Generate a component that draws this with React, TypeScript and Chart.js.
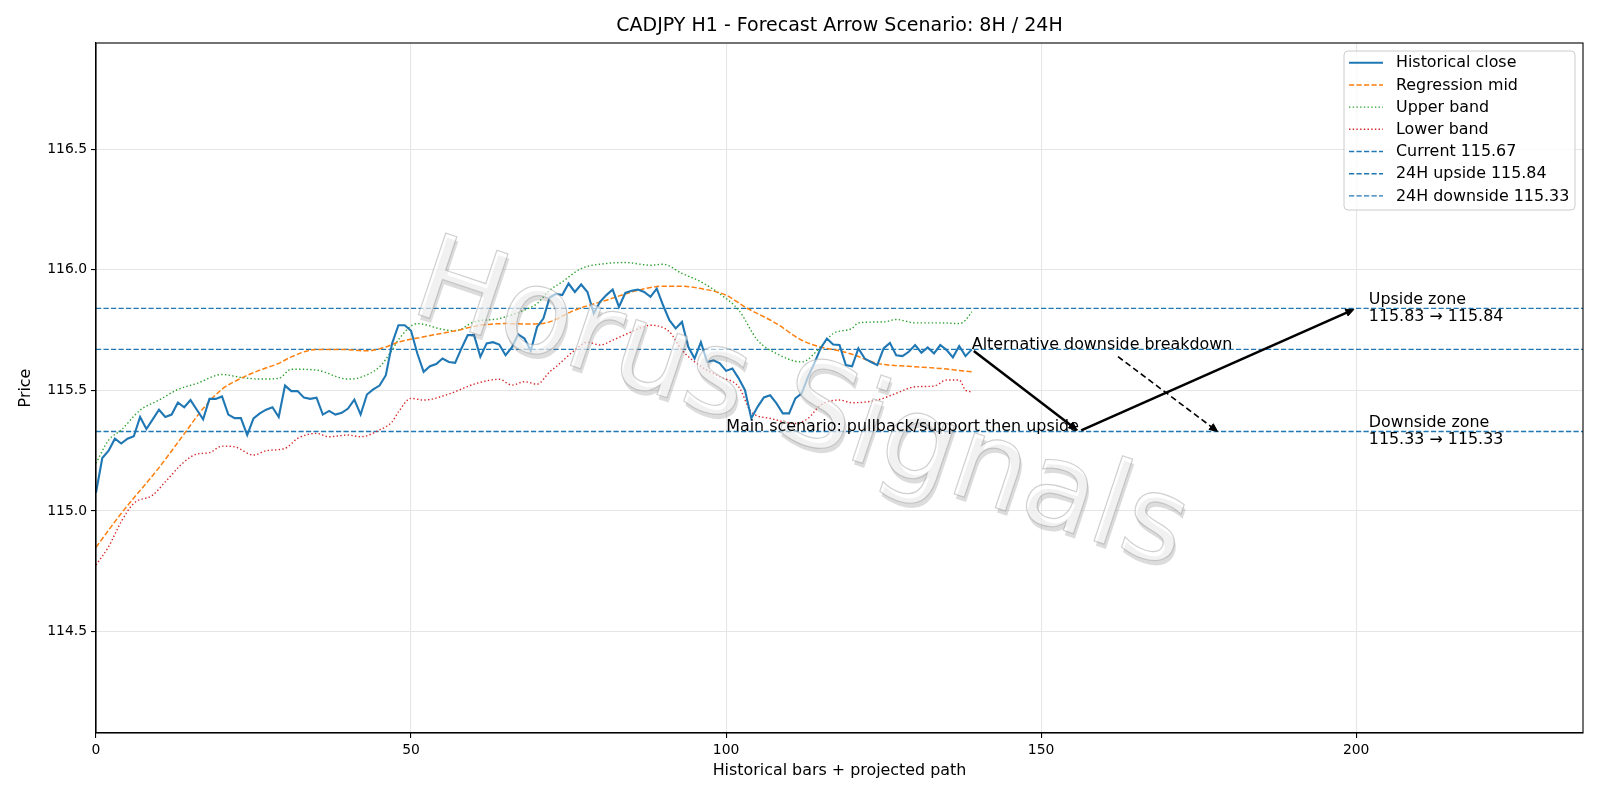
import React, { useEffect, useRef } from "react";
import { Chart, registerables } from "chart.js";

Chart.register(...registerables);

const FONT = "'DejaVu Sans', 'Liberation Sans', sans-serif";
const TEXT_PX = 15.9;
const TICK_PX = 13.9;
const TITLE_PX = 19;

// Hourly closes, bar index 0..139
const closeValues = [
  115.076, 115.22, 115.25, 115.3, 115.28, 115.3, 115.31, 115.39, 115.34, 115.38,
  115.42, 115.39, 115.4, 115.45, 115.43, 115.46, 115.42, 115.38, 115.465, 115.465,
  115.475, 115.4, 115.385, 115.385, 115.315, 115.384, 115.405, 115.42, 115.43, 115.39,
  115.52, 115.497, 115.497, 115.47, 115.465, 115.47, 115.4, 115.415, 115.4, 115.407,
  115.425, 115.462, 115.4, 115.483, 115.504, 115.52, 115.563, 115.695, 115.77, 115.77,
  115.747, 115.653, 115.577, 115.6, 115.609, 115.632, 115.618, 115.614, 115.674, 115.729,
  115.729, 115.639, 115.695, 115.7, 115.69, 115.646, 115.678, 115.733, 115.715, 115.664,
  115.763, 115.798, 115.885, 115.9, 115.895, 115.943, 115.908, 115.939, 115.908, 115.819,
  115.867, 115.895, 115.918, 115.846, 115.904, 115.913, 115.918, 115.908, 115.888, 115.922,
  115.853, 115.791, 115.757, 115.784, 115.681, 115.632, 115.7, 115.618, 115.625, 115.612,
  115.581, 115.591, 115.55, 115.501, 115.384, 115.432, 115.471, 115.48, 115.446, 115.405,
  115.405, 115.467, 115.488, 115.556, 115.612, 115.674, 115.715, 115.69, 115.688, 115.605,
  115.6, 115.674, 115.632, 115.618, 115.605, 115.674, 115.697, 115.646, 115.642, 115.66,
  115.688, 115.656, 115.678, 115.653, 115.688, 115.667, 115.637, 115.684, 115.642, 115.67,
];

// Regression mid-line
const midX = [0, 4, 10, 14, 17, 20, 23, 26, 29, 31, 35, 39, 43, 46, 48, 52, 57, 61, 65, 69, 72, 76, 81, 86, 90, 93, 96, 100, 103, 108, 112, 115, 118, 120, 124, 129, 134, 139];
const midY = [114.85, 114.99, 115.18, 115.32, 115.425, 115.505, 115.55, 115.584, 115.612, 115.639, 115.67, 115.67, 115.664, 115.68, 115.7, 115.722, 115.747, 115.77, 115.777, 115.775, 115.784, 115.833, 115.874, 115.915, 115.932, 115.932, 115.922, 115.895, 115.846, 115.777, 115.708, 115.68, 115.664, 115.65, 115.612, 115.6, 115.591, 115.577];

// Upper channel band
const upperX = [0, 2, 4, 7, 10, 13, 16, 20, 23, 26, 29, 31, 35, 40, 42, 45, 47, 48, 51, 55, 57, 60, 64, 68, 70, 72, 74, 77, 81, 84, 88, 90, 93, 96, 99, 102, 105, 108, 112, 115, 117, 120, 121, 125, 127, 130, 134, 137, 138, 139];
const upperY = [115.198, 115.294, 115.336, 115.418, 115.46, 115.504, 115.529, 115.566, 115.554, 115.547, 115.55, 115.588, 115.584, 115.547, 115.554, 115.598, 115.667, 115.71, 115.777, 115.753, 115.747, 115.784, 115.798, 115.833, 115.86, 115.915, 115.95, 116.005, 116.026, 116.03, 116.019, 116.023, 115.985, 115.95, 115.9, 115.833, 115.708, 115.653, 115.618, 115.68, 115.736, 115.757, 115.78, 115.784, 115.794, 115.78, 115.78, 115.777, 115.791, 115.826];

// Lower channel band
const lowerX = [0, 2, 4, 6, 9, 11, 14, 16, 18, 20, 22, 25, 27, 30, 32, 35, 37, 40, 42, 45, 47, 48, 50, 52, 56, 60, 64, 66, 68, 70, 72, 73, 76, 78, 80, 82, 85, 88, 91, 93, 96, 99, 102, 104, 107, 111, 113, 115, 118, 120, 124, 127, 130, 133, 135, 137, 138, 139];
const lowerY = [114.776, 114.852, 114.956, 115.032, 115.066, 115.121, 115.204, 115.236, 115.242, 115.269, 115.266, 115.232, 115.25, 115.26, 115.301, 115.322, 115.308, 115.315, 115.308, 115.336, 115.37, 115.411, 115.467, 115.46, 115.485, 115.526, 115.546, 115.522, 115.536, 115.526, 115.577, 115.598, 115.667, 115.7, 115.688, 115.708, 115.743, 115.77, 115.743, 115.667, 115.6, 115.556, 115.515, 115.411, 115.384, 115.363, 115.384, 115.439, 115.46, 115.449, 115.46, 115.488, 115.515, 115.518, 115.543, 115.543, 115.501, 115.494];

const currentLevel = 115.67;
const upsideLevel = 115.84;
const downsideLevel = 115.33;
const upsideZone = [115.83, 115.84];
const downsideZone = [115.33, 115.33];

const xRange = [0, 236];
const yRange = [114.08, 116.94];
const xTicks = [0, 50, 100, 150, 200];
const yTicks = [114.5, 115.0, 115.5, 116.0, 116.5];

// Projected scenario path: current -> support -> upside target
const mainPathX = [139, 156, 200];
const mainPathY = [115.67, 115.33, 115.84];
// Alternative breakdown arrow
const altArrowX = [162.2, 178];
const altArrowY = [115.64, 115.33];
const zoneLabelX = 202;

const titleText = "CADJPY H1 - Forecast Arrow Scenario: 8H / 24H";
const xLabel = "Historical bars + projected path";
const yLabel = "Price";
const mainText = "Main scenario: pullback/support then upside";
const altText = "Alternative downside breakdown";
const watermarkText = "Horus Signals";

const BLUE = "#1f77b4";
const ORANGE = "#ff7f0e";
const GREEN = "#2ca02c";
const RED = "#d62728";

const legendItems = [
  { label: "Historical close", color: BLUE, dash: [] as number[], width: 2.1 },
  { label: "Regression mid", color: ORANGE, dash: [5.2, 2.3], width: 1.5 },
  { label: "Upper band", color: GREEN, dash: [1.4, 2.3], width: 1.4 },
  { label: "Lower band", color: RED, dash: [1.4, 2.3], width: 1.4 },
  { label: `Current ${currentLevel.toFixed(2)}`, color: BLUE, dash: [5.2, 2.3], width: 1.4 },
  { label: `24H upside ${upsideLevel.toFixed(2)}`, color: BLUE, dash: [5.2, 2.3], width: 1.4 },
  { label: `24H downside ${downsideLevel.toFixed(2)}`, color: BLUE, dash: [5.2, 2.3], width: 1.4 },
];

function pts(xs: number[], ys: number[]) {
  return xs.map((x, i) => ({ x, y: ys[i] }));
}

function drawArrow(
  ctx: CanvasRenderingContext2D,
  x1: number, y1: number, x2: number, y2: number,
  lw: number, dash: number[], shrink: number,
) {
  const dx = x2 - x1;
  const dy = y2 - y1;
  const len = Math.hypot(dx, dy);
  const ux = dx / len;
  const uy = dy / len;
  const sx = x1 + ux * shrink;
  const sy = y1 + uy * shrink;
  const ex = x2 - ux * shrink;
  const ey = y2 - uy * shrink;
  const headLen = 8;
  const headW = 3.6;
  ctx.save();
  ctx.strokeStyle = "#000";
  ctx.fillStyle = "#000";
  ctx.lineWidth = lw;
  ctx.setLineDash(dash);
  ctx.beginPath();
  ctx.moveTo(sx, sy);
  ctx.lineTo(ex - ux * headLen * 0.6, ey - uy * headLen * 0.6);
  ctx.stroke();
  ctx.setLineDash([]);
  ctx.lineWidth = 1;
  ctx.lineJoin = "miter";
  ctx.beginPath();
  ctx.moveTo(ex, ey);
  ctx.lineTo(ex - ux * headLen - uy * headW, ey - uy * headLen + ux * headW);
  ctx.lineTo(ex - ux * headLen + uy * headW, ey - uy * headLen - ux * headW);
  ctx.closePath();
  ctx.fill();
  ctx.stroke();
  ctx.restore();
}

const overlayPlugin = {
  id: "overlay",
  afterDatasetsDraw(chart: any) {
    const { ctx, chartArea: a, scales } = chart;
    const X = (v: number) => scales.x.getPixelForValue(v);
    const Y = (v: number) => scales.y.getPixelForValue(v);

    // watermark
    ctx.save();
    ctx.beginPath();
    ctx.rect(a.left, a.top, a.right - a.left, a.bottom - a.top);
    ctx.clip();
    ctx.translate(800, 410);
    ctx.rotate((18.5 * Math.PI) / 180);
    ctx.font = `118px ${FONT}`;
    ctx.textAlign = "center";
    ctx.textBaseline = "middle";
    ctx.fillStyle = "rgba(110,110,110,0.24)";
    ctx.fillText(watermarkText, 3, 4);
    ctx.fillStyle = "rgba(255,255,255,0.6)";
    ctx.fillText(watermarkText, 0, 0);
    ctx.strokeStyle = "rgba(150,150,150,0.45)";
    ctx.lineWidth = 1.2;
    ctx.strokeText(watermarkText, 0, 0);
    ctx.restore();

    // scenario arrows
    drawArrow(ctx, X(mainPathX[0]), Y(mainPathY[0]), X(mainPathX[1]), Y(mainPathY[1]), 2.5, [], 2.5);
    drawArrow(ctx, X(mainPathX[1]), Y(mainPathY[1]), X(mainPathX[2]), Y(mainPathY[2]), 2.5, [], 2.5);
    drawArrow(ctx, X(altArrowX[0]), Y(altArrowY[0]), X(altArrowX[1]), Y(altArrowY[1]), 1.6, [6, 3.5], 0);

    // annotation texts
    ctx.save();
    ctx.fillStyle = "#000";
    ctx.font = `${TEXT_PX}px ${FONT}`;
    ctx.textBaseline = "alphabetic";
    ctx.textAlign = "left";
    ctx.fillText(altText, X(mainPathX[0]), Y(currentLevel));
    ctx.textAlign = "right";
    ctx.fillText(mainText, X(mainPathX[1]), Y(downsideLevel));
    ctx.textAlign = "left";
    ctx.textBaseline = "middle";
    const lh = 17;
    ctx.fillText("Upside zone", X(zoneLabelX), Y(upsideLevel) - lh / 2);
    ctx.fillText(`${upsideZone[0].toFixed(2)} \u2192 ${upsideZone[1].toFixed(2)}`, X(zoneLabelX), Y(upsideLevel) + lh / 2);
    ctx.fillText("Downside zone", X(zoneLabelX), Y(downsideLevel) - lh / 2);
    ctx.fillText(`${downsideZone[0].toFixed(2)} \u2192 ${downsideZone[1].toFixed(2)}`, X(zoneLabelX), Y(downsideLevel) + lh / 2);
    ctx.restore();

    // frame
    ctx.save();
    ctx.strokeStyle = "#000";
    ctx.lineWidth = 1.1;
    ctx.strokeRect(a.left, a.top, a.right - a.left, a.bottom - a.top);
    ctx.restore();

    // legend
    ctx.save();
    const lx = 1344, ly = 51, lw = 231, lhgt = 159, r = 4;
    ctx.beginPath();
    ctx.moveTo(lx + r, ly);
    ctx.arcTo(lx + lw, ly, lx + lw, ly + lhgt, r);
    ctx.arcTo(lx + lw, ly + lhgt, lx, ly + lhgt, r);
    ctx.arcTo(lx, ly + lhgt, lx, ly, r);
    ctx.arcTo(lx, ly, lx + lw, ly, r);
    ctx.closePath();
    ctx.fillStyle = "rgba(255,255,255,0.8)";
    ctx.fill();
    ctx.strokeStyle = "#cccccc";
    ctx.lineWidth = 1;
    ctx.stroke();
    ctx.font = `${TEXT_PX}px ${FONT}`;
    ctx.textBaseline = "middle";
    ctx.textAlign = "left";
    legendItems.forEach((it, k) => {
      const yy = 62.7 + 22.2 * k;
      ctx.strokeStyle = it.color;
      ctx.lineWidth = it.width;
      ctx.setLineDash(it.dash);
      ctx.beginPath();
      ctx.moveTo(1349, yy);
      ctx.lineTo(1383, yy);
      ctx.stroke();
      ctx.setLineDash([]);
      ctx.fillStyle = "#000";
      ctx.fillText(it.label, 1396, yy + 0.5);
    });
    ctx.restore();
  },
  afterDraw(chart: any) {
    const { ctx, chartArea: a } = chart;
    ctx.save();
    ctx.fillStyle = "#000";
    ctx.textAlign = "center";
    ctx.textBaseline = "middle";
    ctx.font = `${TITLE_PX}px ${FONT}`;
    ctx.fillText(titleText, (a.left + a.right) / 2, 26);
    ctx.font = `${TEXT_PX}px ${FONT}`;
    ctx.fillText(xLabel, (a.left + a.right) / 2, 771);
    ctx.translate(25.5, (a.top + a.bottom) / 2);
    ctx.rotate(-Math.PI / 2);
    ctx.fillText(yLabel, 0, 0);
    ctx.restore();
  },
};

export default function App() {
  const ref = useRef<HTMLCanvasElement | null>(null);

  useEffect(() => {
    const canvas = ref.current;
    if (!canvas) return;
    const hline = (label: string, v: number) => ({
      label,
      data: [{ x: xRange[0], y: v }, { x: xRange[1], y: v }],
      borderColor: BLUE,
      borderWidth: 1.4,
      borderDash: [5.2, 2.3],
      pointRadius: 0,
      fill: false,
    });
    const chart = new Chart(canvas, {
      type: "line",
      data: {
        datasets: [
          {
            label: "Historical close",
            data: closeValues.map((y, x) => ({ x, y })),
            borderColor: BLUE,
            borderWidth: 2.1,
            pointRadius: 0,
            tension: 0,
          },
          {
            label: "Regression mid",
            data: pts(midX, midY),
            borderColor: ORANGE,
            borderWidth: 1.5,
            borderDash: [5.2, 2.3],
            pointRadius: 0,
            cubicInterpolationMode: "monotone",
          },
          {
            label: "Upper band",
            data: pts(upperX, upperY),
            borderColor: GREEN,
            borderWidth: 1.4,
            borderDash: [1.4, 2.3],
            pointRadius: 0,
            cubicInterpolationMode: "monotone",
          },
          {
            label: "Lower band",
            data: pts(lowerX, lowerY),
            borderColor: RED,
            borderWidth: 1.4,
            borderDash: [1.4, 2.3],
            pointRadius: 0,
            cubicInterpolationMode: "monotone",
          },
          hline(`Current ${currentLevel}`, currentLevel),
          hline(`24H upside ${upsideLevel}`, upsideLevel),
          hline(`24H downside ${downsideLevel}`, downsideLevel),
        ],
      },
      options: {
        responsive: false,
        animation: false,
        devicePixelRatio: 1,
        layout: { padding: { left: 0, right: 17, top: 43, bottom: 0 } },
        plugins: {
          legend: { display: false },
          title: { display: false },
          tooltip: { enabled: false },
        },
        scales: {
          x: {
            type: "linear",
            min: xRange[0],
            max: xRange[1],
            afterBuildTicks: (s: any) => {
              s.ticks = xTicks.map((value) => ({ value }));
            },
            afterFit: (s: any) => {
              s.height = 67;
            },
            grid: { color: "#e6e6e6", lineWidth: 1.1, drawTicks: true, tickLength: 5, tickColor: "#000", tickWidth: 1.1 },
            border: { display: true, color: "#000", width: 1.1 },
            ticks: {
              color: "#000",
              font: { family: FONT, size: TICK_PX },
              padding: 4,
              maxRotation: 0,
              autoSkip: false,
              callback: (v: any) => String(v),
            },
          },
          y: {
            type: "linear",
            min: yRange[0],
            max: yRange[1],
            afterBuildTicks: (s: any) => {
              s.ticks = yTicks.map((value) => ({ value }));
            },
            afterFit: (s: any) => {
              s.width = 96;
            },
            grid: { color: "#e6e6e6", lineWidth: 1.1, drawTicks: true, tickLength: 5, tickColor: "#000", tickWidth: 1.1 },
            border: { display: true, color: "#000", width: 1.1 },
            ticks: {
              color: "#000",
              font: { family: FONT, size: TICK_PX },
              padding: 4,
              autoSkip: false,
              callback: (v: any) => Number(v).toFixed(1),
            },
          },
        },
      },
      plugins: [overlayPlugin],
    } as any);
    return () => chart.destroy();
  }, []);

  return (
    <div style={{ position: "fixed", left: 0, top: 0, width: 1600, height: 800, background: "#ffffff" }}>
      <canvas ref={ref} width={1600} height={800} style={{ display: "block", width: 1600, height: 800 }} />
    </div>
  );
}
